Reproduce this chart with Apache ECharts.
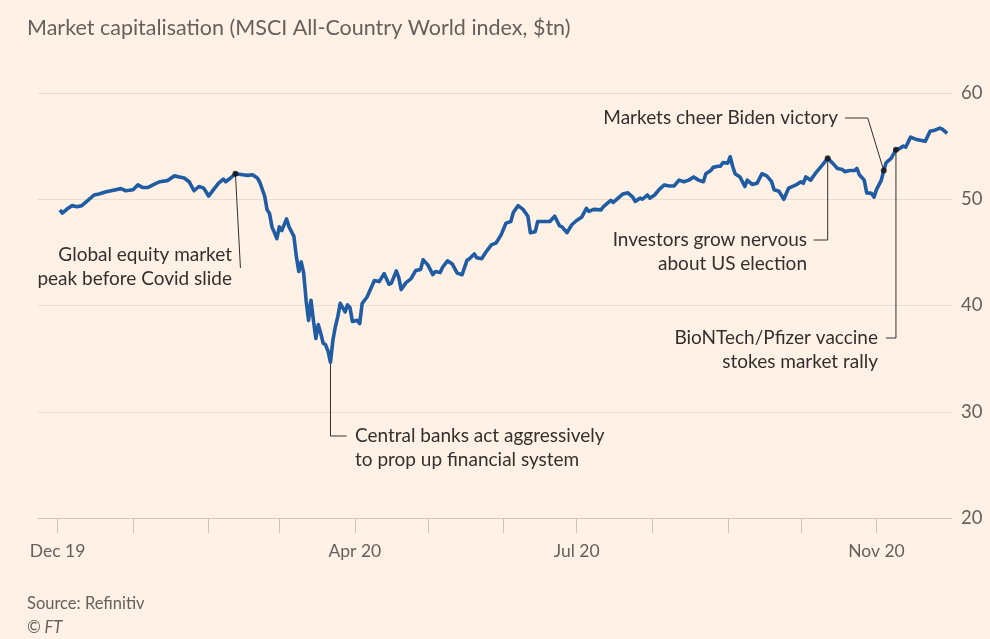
<!DOCTYPE html>
<html>
<head>
<meta charset="utf-8">
<script src="https://cdn.jsdelivr.net/npm/echarts@6/dist/echarts.min.js"></script>
<style>
  html, body { margin: 0; padding: 0; background: #fff1e5; }
  #chart { width: 990px; height: 639px; }
</style>
</head>
<body>
<div id="chart"></div>
<script>
// MSCI ACWI market cap, $tn
var dates = [
  '2019-12-02','2019-12-03','2019-12-05','2019-12-07','2019-12-09','2019-12-11','2019-12-13','2019-12-16','2019-12-18','2019-12-21','2019-12-23','2019-12-27','2019-12-29',
  '2020-01-01','2020-01-03','2020-01-05','2020-01-07','2020-01-10','2020-01-12','2020-01-15','2020-01-18','2020-01-20','2020-01-22','2020-01-24','2020-01-26','2020-01-28','2020-01-30',
  '2020-02-01','2020-02-03','2020-02-05','2020-02-07','2020-02-08','2020-02-10','2020-02-12','2020-02-15','2020-02-17','2020-02-19','2020-02-21','2020-02-22','2020-02-24','2020-02-25','2020-02-26','2020-02-27','2020-02-29',
  '2020-03-01','2020-03-02','2020-03-04','2020-03-05','2020-03-07','2020-03-08','2020-03-09','2020-03-10','2020-03-11','2020-03-12','2020-03-13','2020-03-14','2020-03-15','2020-03-16','2020-03-17','2020-03-18','2020-03-19','2020-03-20','2020-03-21','2020-03-22','2020-03-23','2020-03-24','2020-03-25','2020-03-26','2020-03-28','2020-03-29','2020-03-30','2020-03-31',
  '2020-04-02','2020-04-03','2020-04-04','2020-04-06','2020-04-09','2020-04-11','2020-04-13','2020-04-15','2020-04-16','2020-04-18','2020-04-19','2020-04-20','2020-04-22','2020-04-24','2020-04-26','2020-04-28','2020-04-29',
  '2020-05-01','2020-05-03','2020-05-04','2020-05-06','2020-05-07','2020-05-09','2020-05-11','2020-05-13','2020-05-15','2020-05-17','2020-05-18','2020-05-20','2020-05-21','2020-05-23','2020-05-25','2020-05-27','2020-05-29','2020-05-31',
  '2020-06-02','2020-06-04','2020-06-05','2020-06-07','2020-06-09','2020-06-11','2020-06-12','2020-06-14','2020-06-15','2020-06-18','2020-06-20','2020-06-22','2020-06-24','2020-06-25','2020-06-27','2020-06-29',
  '2020-07-01','2020-07-03','2020-07-05','2020-07-06','2020-07-08','2020-07-11','2020-07-12','2020-07-15','2020-07-16','2020-07-18','2020-07-20','2020-07-22','2020-07-24','2020-07-25','2020-07-27','2020-07-28','2020-07-30','2020-07-31',
  '2020-08-02','2020-08-04','2020-08-06','2020-08-08','2020-08-10','2020-08-12','2020-08-14','2020-08-16','2020-08-18','2020-08-20','2020-08-22','2020-08-23','2020-08-25','2020-08-26','2020-08-28','2020-08-29','2020-08-30',
  '2020-09-01','2020-09-02','2020-09-03','2020-09-04','2020-09-06','2020-09-08','2020-09-09','2020-09-11','2020-09-13','2020-09-15','2020-09-17','2020-09-19','2020-09-20','2020-09-22','2020-09-24','2020-09-26','2020-09-29',
  '2020-10-01','2020-10-02','2020-10-03','2020-10-05','2020-10-07','2020-10-09','2020-10-12','2020-10-14','2020-10-16','2020-10-18','2020-10-19','2020-10-21','2020-10-23','2020-10-24','2020-10-25','2020-10-27','2020-10-28','2020-10-30','2020-10-31',
  '2020-11-01','2020-11-03','2020-11-04','2020-11-05','2020-11-07','2020-11-09','2020-11-10','2020-11-12','2020-11-13','2020-11-15','2020-11-17','2020-11-19','2020-11-21','2020-11-23','2020-11-25','2020-11-27','2020-11-28','2020-11-30'
];
var values = [
  49.0, 48.7, 49.1, 49.4, 49.3, 49.4, 49.8, 50.4, 50.5, 50.7, 50.8, 51.0, 50.8,
  50.9, 51.35, 51.1, 51.1, 51.45, 51.65, 51.75, 52.2, 52.1, 52.0, 51.65, 50.8, 51.2, 51.05,
  50.3, 50.9, 51.5, 51.9, 51.65, 52.0, 52.4, 52.3, 52.25, 52.3, 52.0, 51.6, 50.3, 49.0, 48.65, 47.4, 46.3,
  47.4, 47.05, 48.15, 47.4, 46.5, 44.6, 43.2, 44.1, 43.05, 40.5, 38.6, 40.5, 38.6, 36.9, 38.2, 37.4, 36.45, 36.3, 35.7, 34.65, 36.75, 38.0, 38.95, 40.2, 39.4, 40.05, 39.8, 38.5,
  38.6, 38.3, 40.2, 40.8, 42.35, 42.25, 43.0, 42.0, 42.1, 43.25, 42.65, 41.5, 42.15, 42.5, 43.3, 43.4, 44.3,
  43.8, 42.9, 43.2, 43.1, 43.6, 44.2, 43.9, 43.05, 42.9, 44.25, 44.4, 44.85, 44.5, 44.4, 45.1, 45.7, 45.9, 46.65,
  47.75, 47.9, 48.75, 49.4, 49.05, 48.4, 46.85, 46.95, 47.9, 47.9, 47.9, 48.4, 47.5, 47.4, 46.85, 47.6,
  48.0, 48.3, 49.15, 48.85, 49.05, 49.0, 49.3, 49.9, 49.7, 50.1, 50.5, 50.6, 50.2, 49.8, 50.1, 50.0, 50.4, 50.1,
  50.4, 50.95, 51.35, 51.25, 51.25, 51.8, 51.65, 51.8, 52.1, 51.8, 51.65, 52.4, 52.7, 53.0, 53.1, 53.1, 53.45,
  53.4, 54.0, 53.1, 52.4, 52.1, 51.2, 51.8, 51.4, 51.5, 52.4, 52.2, 51.65, 50.9, 50.75, 50.0, 51.05, 51.35,
  51.65, 51.5, 52.1, 51.8, 52.45, 53.0, 53.85, 53.4, 52.9, 52.8, 52.6, 52.7, 52.7, 52.9, 52.3, 51.8, 50.6, 50.55, 50.2,
  50.9, 51.8, 52.7, 53.45, 53.85, 54.65, 54.7, 55.0, 54.9, 55.85, 55.65, 55.55, 55.45, 56.4, 56.5, 56.7, 56.6, 56.2
];

// axis ticks
var monthTicks = ['2019-12-01','2020-01-01','2020-02-01','2020-03-01','2020-04-01','2020-05-01',
                  '2020-06-01','2020-07-01','2020-08-01','2020-09-01','2020-10-01','2020-11-01'];
var labelTicks = ['2019-12-01','2020-04-01','2020-07-01','2020-11-01'];
var yTicks = [20, 30, 40, 50, 60];

// annotated days
var noteDates = ['2020-02-12','2020-10-12','2020-11-04','2020-11-09'];
var lowDate = '2020-03-22';

var monthNames = ['Jan','Feb','Mar','Apr','May','Jun','Jul','Aug','Sep','Oct','Nov','Dec'];
var fontFam = 'Lato, "Open Sans", sans-serif';
var ink = '#33302e';
var grey = '#66605c';

function toTime(s) {
    var p = s.split('-');
    return new Date(+p[0], +p[1] - 1, +p[2]).getTime();
}

var chart = echarts.init(document.getElementById('chart'));

chart.setOption({
    backgroundColor: '#fff1e5',
    animation: false,
    textStyle: { fontFamily: fontFam },
    title: {
        text: 'Market capitalisation (MSCI All-Country World index, $tn)',
        left: 27,
        top: 17,
        padding: 0,
        textStyle: { fontSize: 21.5, fontWeight: 'normal', color: grey, fontFamily: fontFam }
    },
    grid: { left: 38, right: 38, top: 93, bottom: 121 },
    xAxis: {
        type: 'value',
        min: toTime('2019-11-23'),
        max: toTime('2020-12-02'),
        axisLine: { show: true, lineStyle: { color: '#d3c7bc', width: 1 } },
        axisTick: {
            show: true,
            customValues: monthTicks.map(toTime),
            length: 15,
            lineStyle: { color: '#cfc3b8' }
        },
        axisLabel: {
            customValues: labelTicks.map(toTime),
            color: grey,
            fontSize: 17.5,
            margin: 24,
            formatter: function (v) {
                var d = new Date(v);
                return monthNames[d.getMonth()] + ' ' + String(d.getFullYear()).slice(2);
            }
        },
        splitLine: { show: false }
    },
    yAxis: {
        type: 'value',
        position: 'right',
        min: yTicks[0],
        max: yTicks[yTicks.length - 1],
        interval: 10,
        axisLine: { show: false },
        axisTick: { show: false },
        splitLine: { lineStyle: { color: '#e9ddd2', width: 1 } },
        axisLabel: { color: grey, fontSize: 18.5, margin: 9 }
    },
    series: [
        {
            type: 'line',
            data: dates.map(function (d, i) { return [toTime(d), values[i]]; }),
            showSymbol: false,
            silent: true,
            lineStyle: { color: '#1f5ca3', width: 3.6, join: 'round' },
            z: 3
        },
        {
            type: 'scatter',
            data: noteDates.map(function (d) { return [toTime(d), values[dates.indexOf(d)]]; }),
            symbolSize: 6,
            itemStyle: { color: '#111' },
            silent: true,
            z: 5
        }
    ]
});

function pt(d) {
    return chart.convertToPixel({ seriesIndex: 0 }, [toTime(d), values[dates.indexOf(d)]]);
}

var peak = pt('2020-02-12');
var low = pt(lowDate);
var nerv = pt('2020-10-12');
var biden = pt('2020-11-04');
var vacc = pt('2020-11-09');

var lineStyle = { stroke: ink, lineWidth: 1, fill: null };
function note(x, y, text, align) {
    return {
        type: 'text', x: x, y: y, z: 10,
        style: { text: text, fill: ink, font: '19px ' + fontFam, align: align, verticalAlign: 'top', lineHeight: 24 }
    };
}

chart.setOption({
    graphic: [
        { type: 'polyline', z: 4, shape: { points: [peak, [peak[0] + 5, 268]] }, style: lineStyle },
        note(232, 243, 'Global equity market\npeak before Covid slide', 'right'),

        { type: 'polyline', z: 2, shape: { points: [low, [low[0], 436], [low[0] + 16, 436]] }, style: lineStyle },
        note(355, 424, 'Central banks act aggressively\nto prop up financial system', 'left'),

        { type: 'polyline', z: 4, shape: { points: [nerv, [nerv[0], 240], [nerv[0] - 14, 240]] }, style: lineStyle },
        note(807, 228, 'Investors grow nervous\nabout US election', 'right'),

        { type: 'polyline', z: 4, shape: { points: [vacc, [vacc[0], 338], [vacc[0] - 10, 338]] }, style: lineStyle },
        note(878, 326, 'BioNTech/Pfizer vaccine\nstokes market rally', 'right'),

        { type: 'polyline', z: 4, shape: { points: [biden, [biden[0] - 16, 118], [845, 118]] }, style: lineStyle },
        note(838, 106, 'Markets cheer Biden victory', 'right'),

        {
            type: 'text', x: 27, y: 595,
            style: { text: 'Source: Refinitiv', fill: grey, font: '16.5px ' + fontFam }
        },
        {
            type: 'text', x: 27, y: 619,
            style: { text: '\u00a9 FT', fill: grey, font: 'italic 16.5px ' + fontFam }
        }
    ]
});
</script>
</body>
</html>
